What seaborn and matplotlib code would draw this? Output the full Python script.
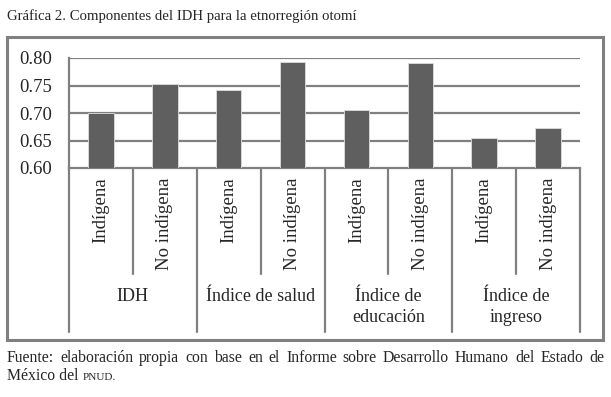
import matplotlib
matplotlib.use("Agg")
import matplotlib.pyplot as plt
import matplotlib.transforms as mtransforms
from matplotlib.patches import Rectangle
import pandas as pd
import seaborn as sns

# data
groups = ["IDH", "Índice de salud", "Índice de\neducación", "Índice de\ningreso"]
subgroups = ["Indígena", "No indígena"]
values = [0.700, 0.752, 0.742, 0.793, 0.705, 0.791, 0.655, 0.672]
yticks = [0.60, 0.65, 0.70, 0.75, 0.80]

title = "Gráfica 2. Componentes del IDH para la etnorregión otomí"
source = "Fuente: elaboración propia con base en el Informe sobre Desarrollo Humano del Estado de"
source2 = "México del "

sns.set_style("white")
plt.rcParams["font.family"] = ["Liberation Serif", "DejaVu Serif"]

W, H = 611, 397
fig = plt.figure(figsize=(W / 100, H / 100), dpi=100)

def fx(px):
    return px / W

def fy(py):
    return 1 - py / H

grey = "#808080"
bar_col = "#5f5f5f"

df = pd.DataFrame({
    "pos": [str(i) for i in range(len(values))],
    "value": values,
})

left, right, top, bottom = 69, 580, 58, 168
ax = fig.add_axes([fx(left), fy(bottom), fx(right - left), fy(top) - fy(bottom)])
sns.barplot(data=df, x="pos", y="value", color=bar_col, width=0.4,
            saturation=1, edgecolor="#dddddd", linewidth=0.6, ax=ax, zorder=3)
ax.set_ylim(0.6, 0.8)
ax.set_xlim(-0.5, len(values) - 0.5)
ax.set_yticks(yticks)
ax.set_yticklabels([f"{t:.2f}" for t in yticks], fontsize=13.5)
ax.set_xticks([])
ax.set_xlabel("")
ax.set_ylabel("")
ax.tick_params(axis="y", length=0, pad=12)
for t in yticks[1:]:
    ax.axhline(t, color=grey, lw=1.6, zorder=1)
for s in ["top", "right"]:
    ax.spines[s].set_visible(False)
for s in ["left", "bottom"]:
    ax.spines[s].set_color(grey)
    ax.spines[s].set_linewidth(1.6)

# category axis below the plot
trans = mtransforms.blended_transform_factory(ax.transData, fig.transFigure)
for i in range(len(values) + 1):
    xline = i - 0.5
    yend = 332 if i % 2 == 0 else 274
    ax.plot([xline, xline], [fy(bottom), fy(yend)], color=grey, lw=1.6,
            transform=trans, clip_on=False)

for i in range(len(values)):
    ax.text(i, fy(177), subgroups[i % 2], rotation=90, ha="center", va="top",
            fontsize=13.5, transform=trans)

for g, name in enumerate(groups):
    ax.text(2 * g + 0.5, fy(288), name, ha="center", va="top", fontsize=13,
            linespacing=1.3, transform=trans)

# frame around the chart
fig.patches.append(Rectangle((fx(7), fy(340)), fx(603 - 7), fy(37) - fy(340),
                             transform=fig.transFigure, fill=False,
                             edgecolor=grey, lw=2.2))

fig.text(fx(7), fy(20), title, ha="left", va="baseline", fontsize=10.6)

# justified first line of the source note
renderer = fig.canvas.get_renderer()
words = source.split(" ")
fs = 11.3
widths = []
for w in words:
    t = fig.text(0, 0, w, fontsize=fs)
    widths.append(t.get_window_extent(renderer).width)
    t.remove()
gap = (604 - 7) - sum(widths)
gap = gap / (len(words) - 1)
xpos = 7
for w, wd in zip(words, widths):
    fig.text(fx(xpos), fy(362), w, ha="left", va="baseline", fontsize=fs)
    xpos += wd + gap

t2 = fig.text(fx(7), fy(380), source2, ha="left", va="baseline", fontsize=fs)
w2 = t2.get_window_extent(renderer).width
fig.text(fx(7 + w2), fy(380), "PNUD.", ha="left", va="baseline", fontsize=8)

fig.savefig("out.png", dpi=100)
